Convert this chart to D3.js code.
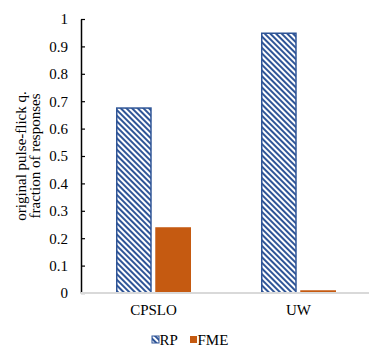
<!DOCTYPE html>
<html>
<head>
<meta charset="utf-8">
<script src="https://cdn.jsdelivr.net/npm/d3@7"></script>
<style>
  body { margin: 0; background: #fff; }
  text { font-family: "Liberation Serif", "Times New Roman", serif; fill: #000; }
</style>
</head>
<body>
<svg id="chart" width="369" height="347"></svg>
<script>
// data
var categories = ["CPSLO", "UW"];
var series = ["RP", "FME"];
var rpValues = [0.675, 0.948];
var fmeValues = [0.24, 0.01];
var yTicks = [0, 0.1, 0.2, 0.3, 0.4, 0.5, 0.6, 0.7, 0.8, 0.9, 1];

var svg = d3.select("#chart");

var margin = { left: 81, right: -2, top: 19, bottom: 54 };
var width = 369 - margin.left - margin.right;
var height = 347 - margin.top - margin.bottom;

// pattern for RP bars (downward diagonal)
var defs = svg.append("defs");
defs.append("pattern")
    .attr("id", "stripes")
    .attr("patternUnits", "userSpaceOnUse")
    .attr("width", 4)
    .attr("height", 4)
    .attr("patternTransform", "rotate(-45)")
  .append("rect")
    .attr("x", 0).attr("y", 0)
    .attr("width", 2).attr("height", 4)
    .attr("fill", "#2F5597");

var g = svg.append("g")
    .attr("transform", "translate(" + margin.left + "," + margin.top + ")");

// scales
var x = d3.scaleBand().domain(categories).range([0, width]);
var xInner = d3.scaleBand().domain(series).range([35, 110]).paddingInner(0.09);
var y = d3.scaleLinear().domain([0, 1]).range([height, 0]);

// y axis
var yAxis = g.append("g")
    .call(d3.axisLeft(y).tickValues(yTicks).tickSizeInner(-4).tickSizeOuter(0)
      .tickPadding(13).tickFormat(function(d){ return d; }));
yAxis.select(".domain").attr("stroke", "#000").attr("stroke-width", 1.5);
yAxis.selectAll(".tick line").attr("stroke", "#000").attr("stroke-width", 1.2);
yAxis.selectAll("text")
    .style("font-family", "Liberation Serif, serif")
    .attr("font-size", "15px").attr("fill", "#000");

// bars
var rows = categories.map(function(c, i){ return { cat: c, RP: rpValues[i], FME: fmeValues[i] }; });

var groups = g.selectAll(".grp").data(rows).enter().append("g")
    .attr("class", "grp")
    .attr("transform", function(d){ return "translate(" + x(d.cat) + ",0)"; });

groups.append("rect")
    .attr("x", xInner("RP") + 0.75)
    .attr("y", function(d){ return y(d.RP); })
    .attr("width", xInner.bandwidth() - 1.5)
    .attr("height", function(d){ return y(0) - y(d.RP); })
    .attr("fill", "url(#stripes)")
    .attr("stroke", "#2F5597")
    .attr("stroke-width", 1.5);

groups.append("rect")
    .attr("x", xInner("FME"))
    .attr("y", function(d){ return y(d.FME); })
    .attr("width", xInner.bandwidth())
    .attr("height", function(d){ return y(0) - y(d.FME); })
    .attr("fill", "#C55A11");

// baseline
g.append("line")
    .attr("x1", 0).attr("x2", width)
    .attr("y1", y(0)).attr("y2", y(0))
    .attr("stroke", "#D9D9D9").attr("stroke-width", 2);

// category labels
g.selectAll(".cat").data(categories).enter().append("text")
    .attr("x", function(d){ return x(d) + 72.5; })
    .attr("y", height + 22)
    .attr("text-anchor", "middle")
    .attr("font-size", "15px")
    .text(function(d){ return d; });

// y label
var ylab = svg.append("text")
    .attr("transform", "translate(0," + (margin.top + height / 2) + ") rotate(-90)")
    .attr("text-anchor", "middle")
    .attr("font-size", "15px");
ylab.append("tspan").attr("x", 0).attr("y", 26).text("original pulse-flick q.");
ylab.append("tspan").attr("x", 0).attr("y", 40).text("fraction of responses");

// legend
var legend = svg.append("g").attr("transform", "translate(152,340)");
var legendX = [0, 38];
series.forEach(function(s, i){
  var lg = legend.append("g").attr("transform", "translate(" + legendX[i] + ",0)");
  lg.append("rect")
      .attr("x", 0).attr("y", -4)
      .attr("width", 7).attr("height", 7)
      .attr("fill", s === "RP" ? "url(#stripes)" : "#C55A11")
      .attr("stroke", s === "RP" ? "#2F5597" : "none")
      .attr("stroke-width", 1);
  lg.append("text")
      .attr("x", 7.5).attr("y", 5)
      .attr("font-size", "15px")
      .text(s);
});
</script>
</body>
</html>
